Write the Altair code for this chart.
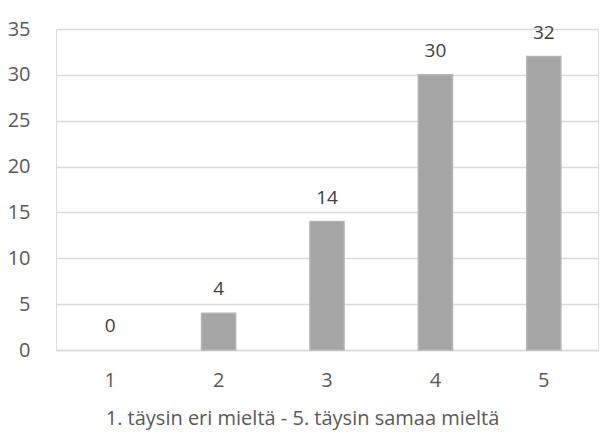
import altair as alt
import pandas as pd

categories = ["1", "2", "3", "4", "5"]
counts = [0, 4, 14, 30, 32]

df = pd.DataFrame({"cat": categories, "n": counts})

FONT = "Open Sans"
TEXT = "#595959"
GRID = "#d9d9d9"

base = alt.Chart(df).encode(
    x=alt.X(
        "cat:N",
        sort=categories,
        title="1. täysin eri mieltä - 5. täysin samaa mieltä",
        scale=alt.Scale(paddingInner=0.685, paddingOuter=0.3425),
        axis=alt.Axis(
            labelAngle=0,
            ticks=False,
            grid=False,
            domainColor=GRID,
            domainWidth=1.3,
            labelFont=FONT,
            labelFontSize=20,
            labelColor=TEXT,
            labelPadding=20,
            titleFont=FONT,
            titleFontSize=20,
            titleFontWeight="normal",
            titleColor=TEXT,
            titlePadding=18,
            titleX=246,
            titleAlign="center",
        ),
    ),
    y=alt.Y(
        "n:Q",
        title=None,
        scale=alt.Scale(domain=[0, 35], nice=False),
        axis=alt.Axis(
            values=[0, 5, 10, 15, 20, 25, 30, 35],
            domain=False,
            ticks=False,
            gridColor=GRID,
            gridWidth=1.3,
            labelFont=FONT,
            labelFontSize=20,
            labelColor=TEXT,
            labelPadding=26,
        ),
    ),
)

# zero-height categories get no bar outline
bars = base.transform_filter("datum.n > 0").mark_bar(
    color="#a5a5a5", stroke="#b5b5b5", strokeWidth=1.5
)

labels = base.mark_text(
    dy=-24, font=FONT, fontSize=19, color="#404040", baseline="middle"
).encode(text="n:Q")

chart = (
    alt.layer(bars, labels)
    .properties(
        width=604,
        height=432,
        autosize=alt.AutoSizeParams(type="fit", contains="padding"),
        padding={"left": 7, "top": 19, "right": 6, "bottom": 4},
    )
    .configure_view(stroke=None)
    .configure(background="white")
)

chart.save("out.html", embed_options={"renderer": "svg", "actions": False})
